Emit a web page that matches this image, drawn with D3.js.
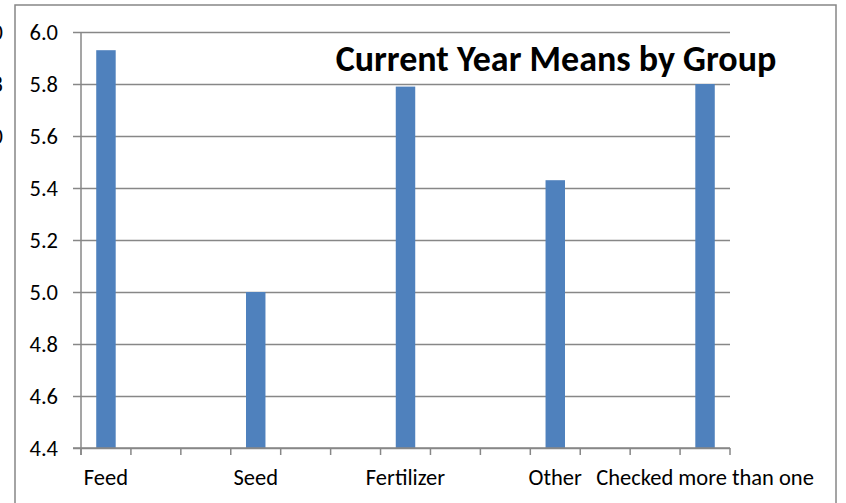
<!DOCTYPE html>
<html>
<head>
<meta charset="utf-8">
<script src="https://cdn.jsdelivr.net/npm/d3@7"></script>
<style>
  body { margin: 0; background: #fff; }
  svg { display: block; font-family: Calibri, Carlito, "Open Sans", sans-serif; }
</style>
</head>
<body>
<div id="chart"></div>
<script>
// categories (blank slots are empty positions on the category axis)
const categories = ["Feed", "", "", "Seed", "", "", "Fertilizer", "", "", "Other", "", "", "Checked more than one"];
const means = [5.93, null, null, 5.00, null, null, 5.79, null, null, 5.43, null, null, 5.80];
const yTicks = [4.4, 4.6, 4.8, 5.0, 5.2, 5.4, 5.6, 5.8, 6.0];
const chartTitle = "Current Year Means by Group";
// right edges of labels from the neighbouring chart, cut off at the left
const neighbourLabels = ["0", "8", "0"];

const width = 846, height = 503;
const margin = { left: 81, right: 116, top: 32, bottom: 55 };
const gridColor = "#878787";
const labelSize = "22.5px";

const svg = d3.select("#chart")
  .append("svg")
  .attr("width", width)
  .attr("height", height);

// chart frame
svg.append("rect")
  .attr("x", 15)
  .attr("y", 5)
  .attr("width", 821)
  .attr("height", 520)
  .attr("fill", "none")
  .attr("stroke", gridColor)
  .attr("stroke-width", 1.5);

const x = d3.scaleBand()
  .domain(d3.range(categories.length))
  .range([margin.left, width - margin.right])
  .padding(0);

const y = d3.scaleLinear()
  .domain([4.4, 6.0])
  .range([height - margin.bottom, margin.top]);

// gridlines
svg.append("g")
  .attr("transform", `translate(${margin.left},0)`)
  .call(d3.axisLeft(y).tickValues(yTicks)
    .tickSize(-(width - margin.left - margin.right))
    .tickFormat(""))
  .call((g) => g.select(".domain").remove())
  .call((g) => g.selectAll("line").attr("stroke", gridColor).attr("stroke-width", 1.5));

// y axis
svg.append("g")
  .attr("transform", `translate(${margin.left},0)`)
  .call(d3.axisLeft(y).tickValues(yTicks).tickSize(8).tickPadding(15).tickFormat(d3.format(".1f")))
  .call((g) => g.select(".domain").attr("d", `M0,${y(6.0)}V${y(4.4) + 7}`))
  .call((g) => g.selectAll("line").attr("stroke", gridColor).attr("stroke-width", 1.5))
  .call((g) => g.selectAll("path").attr("stroke", gridColor).attr("stroke-width", 1.5))
  .call((g) => g.selectAll("text")
    .attr("fill", "#000")
    .style("font-size", labelSize)
    .style("font-family", "Calibri, Carlito, 'Open Sans', sans-serif"));

// bars
const barWidth = x.bandwidth() * 0.39;
svg.append("g")
  .selectAll("rect")
  .data(means.map((v, i) => ({ i, v })).filter((d) => d.v !== null))
  .enter()
  .append("rect")
  .attr("x", (d) => x(d.i) + (x.bandwidth() - barWidth) / 2)
  .attr("y", (d) => y(d.v))
  .attr("width", barWidth)
  .attr("height", (d) => y(4.4) - y(d.v))
  .attr("fill", "#4F81BD");

// x axis: ticks on band boundaries
const boundaries = d3.range(categories.length + 1).map((i) => margin.left + i * x.step());
const xAxisG = svg.append("g");
xAxisG.append("line")
  .attr("x1", margin.left - 8)
  .attr("x2", width - margin.right)
  .attr("y1", y(4.4))
  .attr("y2", y(4.4))
  .attr("stroke", gridColor)
  .attr("stroke-width", 1.5);
xAxisG.selectAll(".xtick")
  .data(boundaries)
  .enter()
  .append("line")
  .attr("x1", (d) => d)
  .attr("x2", (d) => d)
  .attr("y1", y(4.4))
  .attr("y2", y(4.4) + 7)
  .attr("stroke", gridColor)
  .attr("stroke-width", 1.5);
xAxisG.selectAll(".xlabel")
  .data(categories.map((c, i) => ({ c, i })).filter((d) => d.c !== ""))
  .enter()
  .append("text")
  .attr("x", (d) => x(d.i) + x.bandwidth() / 2)
  .attr("y", 485)
  .attr("text-anchor", "middle")
  .style("font-size", labelSize)
  .text((d) => d.c);

// title
svg.append("text")
  .attr("x", 556)
  .attr("y", 71)
  .attr("text-anchor", "middle")
  .style("font-size", "36px")
  .style("font-weight", "bold")
  .text(chartTitle);

// cut-off labels of the neighbouring chart
svg.selectAll(".neighbour")
  .data(neighbourLabels)
  .enter()
  .append("text")
  .attr("x", 3)
  .attr("y", (d, i) => y(6.0 - i * 0.2) + 8)
  .attr("text-anchor", "end")
  .style("font-size", labelSize)
  .text((d) => d);
</script>
</body>
</html>
